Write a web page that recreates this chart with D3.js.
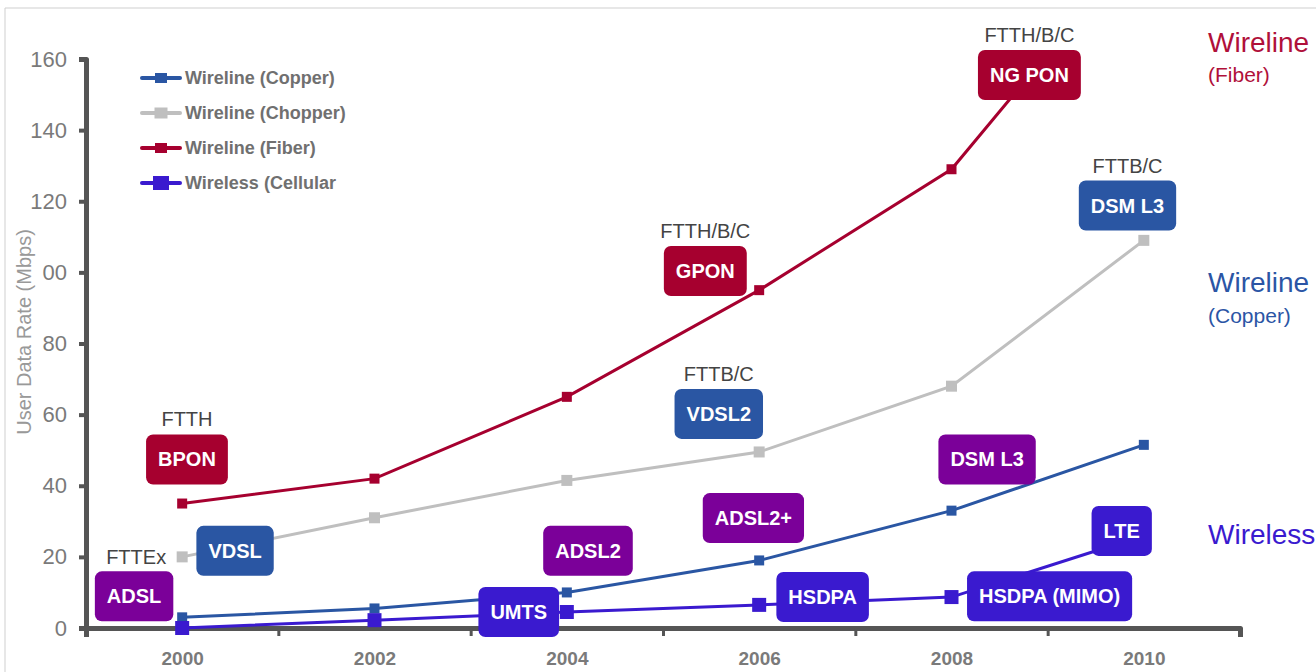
<!DOCTYPE html>
<html>
<head>
<meta charset="utf-8">
<script src="https://cdn.jsdelivr.net/npm/d3@7"></script>
<style>
    body { margin: 0; background: #fff; }
    svg { display: block; font-family: "Liberation Sans", Arial, sans-serif; }
    .axis path, .axis line { stroke: #555; }
    .axis text { fill: #7a7a7a; }
</style>
</head>
<body>
<svg></svg>
<script>
// data
var years = [2000, 2002, 2004, 2006, 2008, 2010];
var copper = [3, 5.5, 10, 19, 33, 51.5];
var chopper = [20, 31, 41.5, 49.5, 68, 109];
var fiber = [35, 42, 65, 95, 129, 194];
var wireless = [0, 2.2, 4.5, 6.5, 8.7, 26];

var seriesNames = ['Wireline (Copper)', 'Wireline (Chopper)', 'Wireline (Fiber)', 'Wireless (Cellular'];
var seriesValues = [copper, chopper, fiber, wireless];

var yTicks = [0, 20, 40, 60, 80, 100, 120, 140, 160];
var yTickLabels = ['0', '20', '40', '60', '80', '00', '120', '140', '160'];
var xMinorTicks = [1999, 2001, 2003, 2005, 2007, 2009, 2011];
var xLabelYears = [2000, 2002, 2004, 2006, 2008, 2010];

// technology boxes: label, tag above, kind, position in data units
var boxLabels = ['BPON', 'VDSL', 'ADSL', 'UMTS', 'ADSL2', 'ADSL2+', 'HSDPA', 'HSDPA (MIMO)', 'LTE', 'DSM L3', 'VDSL2', 'GPON', 'NG PON', 'DSM L3'];
var boxTags = ['FTTH', '', '', '', '', '', '', '', '', '', 'FTTB/C', 'FTTH/B/C', 'FTTH/B/C', 'FTTB/C'];
var boxKinds = ['fiber', 'copper', 'dsl', 'wireless', 'dsl', 'dsl', 'wireless', 'wireless', 'wireless', 'dsl', 'copper', 'fiber', 'fiber', 'copper'];
var boxYears = [2000.05, 2000.55, 1999.5, 2003.5, 2004.22, 2005.94, 2006.66, 2009.02, 2009.77, 2008.37, 2005.58, 2005.44, 2008.81, 2009.83];
var boxValues = [47.4, 21.7, 8.9, 4.5, 21.7, 30.9, 8.7, 8.9, 27.3, 47.4, 60.2, 100.4, 155.5, 118.8];

var width = 1316,
    height = 672,
    color = ['#2a56a3', '#bfbfbf', '#a6002f', '#3a1acf'],
    kindColor = { fiber: '#a6002f', copper: '#2a56a3', dsl: '#7b0099', wireless: '#3a1acf' },
    markerSize = [10, 11, 10, 14];

var svg = d3.select('svg')
    .attr('width', width)
    .attr('height', height);

var x = d3.scaleLinear().domain([1999, 2011]).range([86, 1240]),
    y = d3.scaleLinear().domain([0, 160]).range([628, 59]);

// thin frame at top / left
svg.append('line')
    .attr('x1', 5).attr('y1', 8).attr('x2', width).attr('y2', 8)
    .attr('stroke', '#cfcfcf').attr('stroke-width', 1);
svg.append('line')
    .attr('x1', 5).attr('y1', 8).attr('x2', 5).attr('y2', height)
    .attr('stroke', '#cfcfcf').attr('stroke-width', 1);

// y axis
var yAxis = d3.axisLeft(y)
    .tickValues(yTicks)
    .tickSize(7)
    .tickPadding(12)
    .tickFormat(function (d, i) { return yTickLabels[i]; });

var gy = svg.append('g')
    .attr('class', 'axis axis-y')
    .attr('transform', 'translate(86,0)')
    .call(yAxis);
gy.select('.domain').attr('stroke-width', 5).attr('stroke-linejoin', 'round');
gy.selectAll('.tick line').attr('stroke-width', 4);
gy.selectAll('.tick text').style('font-size', '22px');

// x axis: minor ticks on odd years, labels on even years
var gx = svg.append('g')
    .attr('class', 'axis axis-x')
    .attr('transform', 'translate(0,' + y(0) + ')')
    .call(d3.axisBottom(x).tickValues(xMinorTicks).tickSize(8).tickSizeOuter(9).tickFormat(''));
gx.select('.domain').attr('stroke-width', 5).attr('stroke-linejoin', 'round');
gx.selectAll('.tick line').attr('stroke-width', 3);

var gxl = svg.append('g')
    .attr('class', 'axis axis-xl')
    .attr('transform', 'translate(0,' + y(0) + ')')
    .call(d3.axisBottom(x).tickValues(xLabelYears).tickSize(0).tickPadding(24).tickFormat(d3.format('d')));
gxl.select('.domain').remove();
gxl.selectAll('.tick text')
    .style('font-size', '19px')
    .style('font-weight', 'bold')
    .attr('fill', '#858585');

// y axis title
svg.append('text')
    .attr('transform', 'translate(31,332) rotate(-90)')
    .attr('text-anchor', 'middle')
    .style('font-size', '20px')
    .attr('fill', '#999')
    .text('User Data Rate (Mbps)');

// lines + markers
svg.append('clipPath')
    .attr('id', 'plot-clip')
    .append('rect')
    .attr('x', 0).attr('y', y(160))
    .attr('width', width).attr('height', height - y(160));

var line = d3.line()
    .x(function (d, i) { return x(years[i]); })
    .y(function (d) { return y(d); });

var chart = svg.append('g')
    .attr('class', 'chart')
    .attr('clip-path', 'url(#plot-clip)');

var layer = chart.selectAll('.layer')
    .data(seriesValues)
    .enter().append('g')
    .attr('class', 'layer');

layer.append('path')
    .attr('fill', 'none')
    .attr('stroke', function (d, i) { return color[i]; })
    .attr('stroke-width', 3)
    .attr('d', line);

layer.each(function (vals, k) {
    d3.select(this).selectAll('rect')
        .data(vals)
        .enter().append('rect')
        .attr('x', function (d, i) { return x(years[i]) - markerSize[k] / 2; })
        .attr('y', function (d) { return y(d) - markerSize[k] / 2; })
        .attr('width', markerSize[k])
        .attr('height', markerSize[k])
        .attr('fill', color[k]);
});

// legend
var ledgend = svg.append('g')
    .attr('class', 'ledgend')
    .attr('transform', 'translate(142,78)')
    .selectAll('.li')
    .data(seriesNames)
    .enter().append('g')
    .attr('class', 'li')
    .attr('transform', function (d, i) { return 'translate(0,' + i * 35 + ')'; });

ledgend.append('line')
    .attr('x1', 0).attr('x2', 38)
    .attr('stroke', function (d, i) { return color[i]; })
    .attr('stroke-width', 4)
    .attr('stroke-linecap', 'round');
ledgend.append('rect')
    .attr('x', function (d, i) { return 19 - markerSize[i] / 2 - 1; })
    .attr('y', function (d, i) { return -markerSize[i] / 2; })
    .attr('width', function (d, i) { return markerSize[i] + 2; })
    .attr('height', function (d, i) { return markerSize[i]; })
    .attr('fill', function (d, i) { return color[i]; });
ledgend.append('text')
    .attr('x', 43)
    .attr('y', 6)
    .style('font-size', '18px')
    .style('font-weight', 'bold')
    .attr('fill', '#707070')
    .text(function (d) { return d; });

// FTTEx tag next to the first chopper point
svg.append('text')
    .attr('x', x(years[0]) - 16)
    .attr('y', y(chopper[0]) + 7)
    .attr('text-anchor', 'end')
    .style('font-size', '20px')
    .attr('fill', '#444')
    .text('FTTEx');

// technology boxes
var boxH = 50;
var boxes = svg.append('g')
    .attr('class', 'boxes')
    .selectAll('.box')
    .data(boxLabels)
    .enter().append('g')
    .attr('class', 'box')
    .attr('transform', function (d, i) {
        return 'translate(' + x(boxYears[i]) + ',' + y(boxValues[i]) + ')';
    });

boxes.append('text')
    .attr('class', 'boxtext')
    .attr('text-anchor', 'middle')
    .attr('y', 7)
    .style('font-size', '20px')
    .style('font-weight', 'bold')
    .attr('fill', '#fff')
    .text(function (d) { return d; });

boxes.each(function (d, i) {
    var g = d3.select(this),
        w = g.select('text').node().getComputedTextLength() + 24;
    g.insert('rect', 'text')
        .attr('x', -w / 2)
        .attr('y', -boxH / 2)
        .attr('width', w)
        .attr('height', boxH)
        .attr('rx', 7)
        .attr('ry', 7)
        .attr('fill', kindColor[boxKinds[i]]);
    if (boxTags[i]) {
        g.append('text')
            .attr('text-anchor', 'middle')
            .attr('y', -boxH / 2 - 8)
            .style('font-size', '20px')
            .attr('fill', '#444')
            .text(boxTags[i]);
    }
});

// right-hand group labels
var sideLabels = [['Wireline', 52, 28, '#b0103a'], ['(Fiber)', 82, 21, '#b0103a'],
    ['Wireline', 292, 28, '#2b55a5'], ['(Copper)', 323, 21, '#2b55a5'],
    ['Wireless', 544, 28, '#3a1acf']];
svg.selectAll('.side')
    .data(sideLabels)
    .enter().append('text')
    .attr('class', 'side')
    .attr('x', 1208)
    .attr('y', function (d) { return d[1]; })
    .style('font-size', function (d) { return d[2] + 'px'; })
    .attr('fill', function (d) { return d[3]; })
    .text(function (d) { return d[0]; });
</script>
</body>
</html>
